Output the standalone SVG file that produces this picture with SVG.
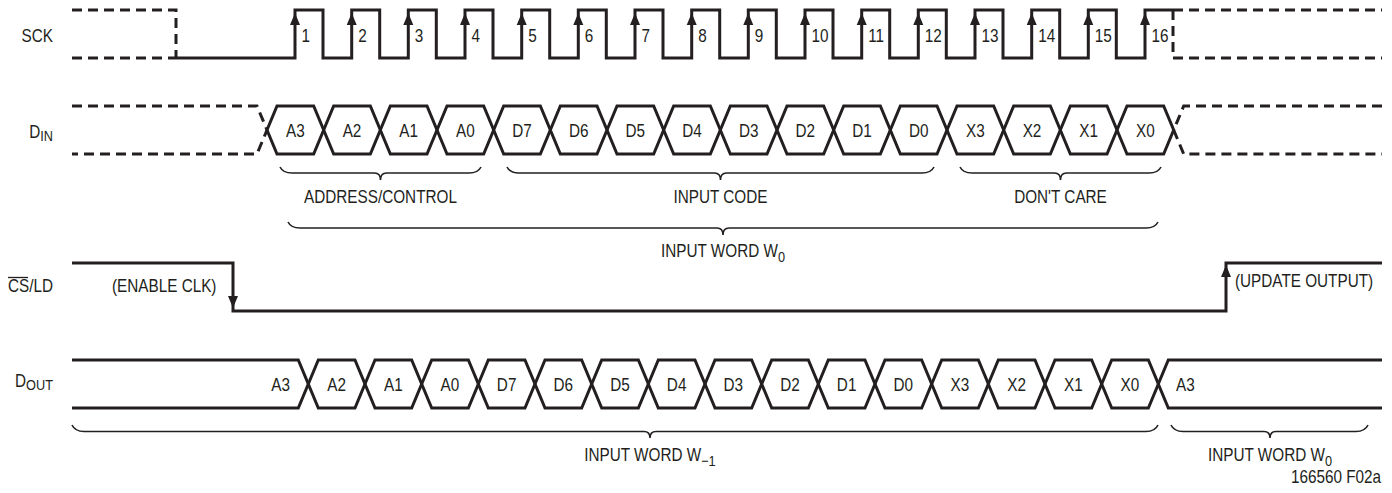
<svg xmlns="http://www.w3.org/2000/svg" xmlns:xlink="http://www.w3.org/1999/xlink" width="1392" height="493" viewBox="0 0 1392 493">
<style>
text{font-family:"Liberation Sans",Arial,sans-serif;font-size:18px;fill:#231f20}
.lbl{text-anchor:end}
.c{text-anchor:middle}
.e{text-anchor:end}
.sub{font-size:15px}
.sig{fill:none;stroke:#231f20;stroke-width:3;stroke-linejoin:miter}
.dash{fill:none;stroke:#231f20;stroke-width:3;stroke-dasharray:10 6}
.brace{fill:none;stroke:#231f20;stroke-width:1.6}
.arr{fill:#231f20}
</style>
<defs>
<path id="up" class="arr" d="M0,0 L-5,12 L5,12 Z"/>
<path id="dn" class="arr" d="M0,0 L-5,-12 L5,-12 Z"/>
<path id="hex" class="sig" d="M0,0 L10,-24 L46.67,-24 L56.67,0 L46.67,24 L10,24 Z"/>
</defs>
<rect width="1392" height="493" fill="#fff"/>

<g id="sck">
<path class="dash" d="M72,10 H176 V58 M72,58 H176"/>
<path class="sig" d="M176,58 H295 V10 H323 V58 H351.7 V10 H379.7 V58 H408.3 V10 H436.3 V58 H465 V10 H493 V58 H521.7 V10 H549.7 V58 H578.3 V10 H606.3 V58 H635 V10 H663 V58 H691.7 V10 H719.7 V58 H748.3 V10 H776.3 V58 H805 V10 H833 V58 H861.7 V10 H889.7 V58 H918.3 V10 H946.3 V58 H975 V10 H1003 V58 H1031.7 V10 H1059.7 V58 H1088.3 V10 H1116.3 V58 H1145 V10 H1173"/>
<path class="dash" d="M1173,10 H1382 M1173,10 V58 H1382"/>
<use xlink:href="#up" x="295" y="13"/><use xlink:href="#up" x="351.7" y="13"/><use xlink:href="#up" x="408.3" y="13"/><use xlink:href="#up" x="465" y="13"/>
<use xlink:href="#up" x="521.7" y="13"/><use xlink:href="#up" x="578.3" y="13"/><use xlink:href="#up" x="635" y="13"/><use xlink:href="#up" x="691.7" y="13"/>
<use xlink:href="#up" x="748.3" y="13"/><use xlink:href="#up" x="805" y="13"/><use xlink:href="#up" x="861.7" y="13"/><use xlink:href="#up" x="918.3" y="13"/>
<use xlink:href="#up" x="975" y="13"/><use xlink:href="#up" x="1031.7" y="13"/><use xlink:href="#up" x="1088.3" y="13"/><use xlink:href="#up" x="1145" y="13"/>
<g transform="scale(0.85 1)">
<text x="354.71" y="42">1</text><text x="421.37" y="42">2</text><text x="488.04" y="42">3</text><text x="554.71" y="42">4</text>
<text x="621.37" y="42">5</text><text x="688.04" y="42">6</text><text x="754.71" y="42">7</text><text x="821.37" y="42">8</text>
<text x="888.04" y="42">9</text><text x="954.71" y="42">10</text><text x="1021.37" y="42">11</text><text x="1088.04" y="42">12</text>
<text x="1154.71" y="42">13</text><text x="1221.37" y="42">14</text><text x="1288.04" y="42">15</text><text x="1354.71" y="42">16</text>
</g>
</g>

<g id="din">
<path class="dash" d="M72,106 H257 L267,130 L257,154 H72"/>
<path class="dash" d="M1382,106 H1183.7 L1173.7,130 L1183.7,154 H1382"/>
<use xlink:href="#hex" x="267" y="130"/><use xlink:href="#hex" x="323.67" y="130"/><use xlink:href="#hex" x="380.33" y="130"/><use xlink:href="#hex" x="437" y="130"/>
<use xlink:href="#hex" x="493.67" y="130"/><use xlink:href="#hex" x="550.33" y="130"/><use xlink:href="#hex" x="607" y="130"/><use xlink:href="#hex" x="663.67" y="130"/>
<use xlink:href="#hex" x="720.33" y="130"/><use xlink:href="#hex" x="777" y="130"/><use xlink:href="#hex" x="833.67" y="130"/><use xlink:href="#hex" x="890.33" y="130"/>
<use xlink:href="#hex" x="947" y="130"/><use xlink:href="#hex" x="1003.67" y="130"/><use xlink:href="#hex" x="1060.33" y="130"/><use xlink:href="#hex" x="1117" y="130"/>
<g transform="scale(0.85 1)">
<text class="c" x="347.45" y="137">A3</text><text class="c" x="414.12" y="137">A2</text><text class="c" x="480.78" y="137">A1</text><text class="c" x="547.45" y="137">A0</text>
<text class="c" x="614.12" y="137">D7</text><text class="c" x="680.78" y="137">D6</text><text class="c" x="747.45" y="137">D5</text><text class="c" x="814.12" y="137">D4</text>
<text class="c" x="880.78" y="137">D3</text><text class="c" x="947.45" y="137">D2</text><text class="c" x="1014.12" y="137">D1</text><text class="c" x="1080.78" y="137">D0</text>
<text class="c" x="1147.45" y="137">X3</text><text class="c" x="1214.12" y="137">X2</text><text class="c" x="1280.78" y="137">X1</text><text class="c" x="1347.45" y="137">X0</text>
</g>
</g>

<g id="din-braces">
<path class="brace" d="M280,167 Q283,173 292,173 H374.5 Q380.5,173 380.5,180 Q380.5,173 386.5,173 H469 Q478,173 481,167"/>
<path class="brace" d="M507,167 Q510,173 519,173 H714.5 Q720.5,173 720.5,180 Q720.5,173 726.5,173 H922 Q931,173 934,167"/>
<path class="brace" d="M960,167 Q963,173 972,173 H1054.5 Q1060.5,173 1060.5,180 Q1060.5,173 1066.5,173 H1149 Q1158,173 1161,167"/>
<path class="brace" d="M288,222 Q291,228 300,228 H717 Q723,228 723,235 Q723,228 729,228 H1146 Q1155,228 1158,222"/>
<g transform="scale(0.85 1)">
<text class="c" x="447.65" y="203">ADDRESS/CONTROL</text>
<text class="c" x="847.65" y="203">INPUT CODE</text>
<text class="c" x="1247.65" y="203">DON'T CARE</text>
<text class="c" x="850.59" y="257">INPUT WORD W<tspan class="sub" dy="5">0</tspan></text>
</g>
</g>

<g id="csld">
<path class="sig" d="M72,263 H233 V311 H1226 V263 H1382"/>
<use xlink:href="#dn" x="233" y="308"/>
<use xlink:href="#up" x="1226" y="265"/>
<g transform="scale(0.85 1)">
<text x="131.76" y="292">(ENABLE CLK)</text>
<text x="1452.94" y="287">(UPDATE OUTPUT)</text>
</g>
</g>

<g id="dout">
<path class="sig" d="M72,360 H298.3 L308.3,384 L298.3,408 H72"/>
<path class="sig" d="M1382,360 H1168.3 L1158.3,384 L1168.3,408 H1382"/>
<use xlink:href="#hex" x="308.3" y="384"/><use xlink:href="#hex" x="365" y="384"/><use xlink:href="#hex" x="421.7" y="384"/><use xlink:href="#hex" x="478.3" y="384"/>
<use xlink:href="#hex" x="535" y="384"/><use xlink:href="#hex" x="591.7" y="384"/><use xlink:href="#hex" x="648.3" y="384"/><use xlink:href="#hex" x="705" y="384"/>
<use xlink:href="#hex" x="761.7" y="384"/><use xlink:href="#hex" x="818.3" y="384"/><use xlink:href="#hex" x="875" y="384"/><use xlink:href="#hex" x="931.7" y="384"/>
<use xlink:href="#hex" x="988.3" y="384"/><use xlink:href="#hex" x="1045" y="384"/><use xlink:href="#hex" x="1101.7" y="384"/>
<g transform="scale(0.85 1)">
<text class="e" x="341.18" y="391">A3</text>
<text class="c" x="396.04" y="391">A2</text><text class="c" x="462.71" y="391">A1</text><text class="c" x="529.37" y="391">A0</text><text class="c" x="596.04" y="391">D7</text>
<text class="c" x="662.71" y="391">D6</text><text class="c" x="729.37" y="391">D5</text><text class="c" x="796.04" y="391">D4</text><text class="c" x="862.71" y="391">D3</text>
<text class="c" x="929.37" y="391">D2</text><text class="c" x="996.04" y="391">D1</text><text class="c" x="1062.71" y="391">D0</text><text class="c" x="1129.37" y="391">X3</text>
<text class="c" x="1196.04" y="391">X2</text><text class="c" x="1262.71" y="391">X1</text><text class="c" x="1329.37" y="391">X0</text>
<text x="1383.53" y="391">A3</text>
</g>
</g>

<g id="dout-braces">
<path class="brace" d="M72,425 Q75,431.5 84,431.5 H644 Q650,431.5 650,438 Q650,431.5 656,431.5 H1146 Q1155,431.5 1158,425"/>
<path class="brace" d="M1171,425 Q1174,431.5 1183,431.5 H1264 Q1270,431.5 1270,438 Q1270,431.5 1276,431.5 H1356 Q1365,431.5 1368,425"/>
<g transform="scale(0.85 1)">
<text class="c" x="764.71" y="461">INPUT WORD W<tspan class="sub" dy="5">−1</tspan></text>
<text class="c" x="1494.12" y="461">INPUT WORD W<tspan class="sub" dy="5">0</tspan></text>
</g>
</g>

<g id="labels">
<g transform="scale(0.85 1)">
<text class="lbl" x="62.35" y="42">SCK</text>
<text class="lbl" x="62.35" y="138">D<tspan class="sub" dy="3">IN</tspan></text>
<text class="lbl" x="62.35" y="292">CS/LD</text>
<text class="lbl" x="62.35" y="387">D<tspan class="sub" dy="3">OUT</tspan></text>
<text class="e" x="1624.71" y="483" font-size="12">166560 F02a</text>
</g>
<line x1="8" y1="277.5" x2="28" y2="277.5" stroke="#231f20" stroke-width="1.3"/>
</g>
</svg>
